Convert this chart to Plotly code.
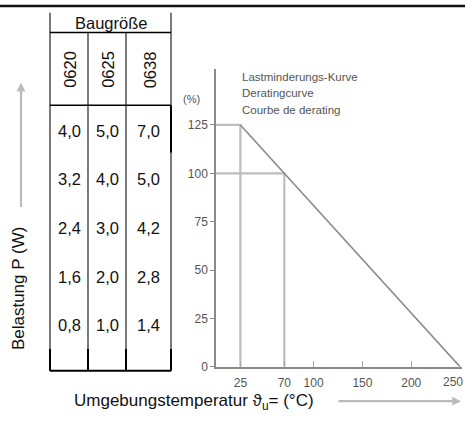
import plotly.graph_objects as go

# ---- data ----
baugroessen = ["0620", "0625", "0638"]
belastung_0620 = [4.0, 3.2, 2.4, 1.6, 0.8]
belastung_0625 = [5.0, 4.0, 3.0, 2.0, 1.0]
belastung_0638 = [7.0, 5.0, 4.2, 2.8, 1.4]

derating_temp = [25, 70, 250]      # °C
derating_load = [125, 100, 0]      # %
x_ticks = [25, 70, 100, 150, 200, 250]
y_ticks = [0, 25, 50, 75, 100, 125]
curve_labels = ["Lastminderungs-Kurve", "Deratingcurve", "Courbe de derating"]

W, H = 465, 421
FONT = "Liberation Sans, Arial, sans-serif"


def px(x):
    return x / W


def py(y):
    return 1 - y / H


def label(text, x, y, size=16.5, color="#111", angle=0, xanchor="center"):
    return dict(text=text, x=px(x), y=py(y), xref="paper", yref="paper",
                xanchor=xanchor, yanchor="middle", showarrow=False, textangle=angle,
                font=dict(family=FONT, size=size, color=color))


fig = go.Figure()

# guide lines from the knee points to both axes
for t, l in zip(derating_temp[:2], derating_load[:2]):
    fig.add_trace(go.Scatter(x=[0, t, t], y=[l, l, 0], mode="lines",
                             line=dict(color="#bdbdbd", width=2.2),
                             hoverinfo="skip", showlegend=False))
# derating curve
fig.add_trace(go.Scatter(x=derating_temp, y=derating_load, mode="lines",
                         line=dict(color="#8a8a8a", width=1.6),
                         showlegend=False))

shapes = []
annotations = []

# top rule
shapes.append(dict(type="line", xref="paper", yref="paper", x0=0, x1=1,
                   y0=py(6), y1=py(6), line=dict(color="#111", width=2.5)))

# table geometry (pixels)
col_x = [50, 88, 126, 171]
y_top, y_head, y_sub, y_bot = 13, 33, 107, 377
row_y = [133, 182.5, 232, 281.5, 331]
tc = "#333"
for i, x in enumerate(col_x):
    y0 = y_top if i in (0, 3) else y_head
    shapes.append(dict(type="line", xref="paper", yref="paper", x0=px(x), x1=px(x),
                       y0=py(y0), y1=py(y_bot), line=dict(color=tc, width=1.3)))
    shapes.append(dict(type="line", xref="paper", yref="paper", x0=px(x), x1=px(x),
                       y0=py(355), y1=py(y_bot), line=dict(color="#000", width=2)))
shapes.append(dict(type="line", xref="paper", yref="paper", x0=px(171), x1=px(171),
                   y0=py(107), y1=py(155), line=dict(color="#000", width=2)))
for y, w in ((y_head, 1.5), (y_sub, 1.5), (y_bot, 2.2)):
    shapes.append(dict(type="line", xref="paper", yref="paper", x0=px(col_x[0]), x1=px(col_x[-1]),
                       y0=py(y), y1=py(y), line=dict(color="#000", width=w)))

annotations.append(label("Baugröße", (col_x[0] + col_x[-1]) / 2, 23))
columns = [belastung_0620, belastung_0625, belastung_0638]
for j, name in enumerate(baugroessen):
    cx = (col_x[j] + col_x[j + 1]) / 2
    annotations.append(label(name, cx + 1, 71, angle=-90))
    for yy, v in zip(row_y, columns[j]):
        annotations.append(label(f"{v:.1f}".replace(".", ","), cx, yy))

# axis titles
annotations.append(label("Belastung P (W)", 18, 294, size=17, angle=-90))
annotations.append(label("Umgebungstemperatur ϑ<sub>u</sub>= (°C)", 194, 409, size=17))
# arrows
annotations.append(dict(text="", x=px(461), y=py(408), xref="paper", yref="paper",
                        ax=-124, ay=0, showarrow=True, arrowhead=2, arrowsize=0.8,
                        arrowwidth=2.2, arrowcolor="#bbbbbb"))
annotations.append(dict(text="", x=px(21), y=py(84), xref="paper", yref="paper",
                        ax=0, ay=126, showarrow=True, arrowhead=2, arrowsize=0.8,
                        arrowwidth=2.2, arrowcolor="#bbbbbb"))

# last x tick label (at the right edge of the picture)
annotations.append(dict(text=str(x_ticks[-1]), x=1, y=py(388), xref="paper", yref="paper",
                        xanchor="right", yanchor="middle", showarrow=False,
                        font=dict(family=FONT, size=12, color="#555")))

# chart labels
annotations.append(label("(%)", 181, 101, size=11, color="#555", xanchor="left"))
for k, lab in enumerate(curve_labels):
    annotations.append(label(lab, 240, 78 + 17 * k, size=11.5, color="#555", xanchor="left"))

fig.update_layout(
    width=W, height=H,
    margin=dict(l=0, r=0, t=0, b=0),
    paper_bgcolor="white", plot_bgcolor="white",
    shapes=shapes, annotations=annotations,
    xaxis=dict(domain=[px(216), px(462)], range=[0, 252], tickvals=x_ticks[:-1],
               showline=True, linecolor="#8a8a8a", linewidth=1.5, showgrid=False,
               zeroline=False, ticks="inside", ticklen=6, tickcolor="#aaa",
               ticklabelstandoff=4,
               tickfont=dict(family=FONT, size=12, color="#555")),
    yaxis=dict(domain=[py(373), py(70)], range=[0, 154], tickvals=y_ticks,
               showline=True, linecolor="#8a8a8a", linewidth=1.5, showgrid=False,
               zeroline=False, ticks="outside", ticklen=4, tickcolor="#888",
               tickfont=dict(family=FONT, size=12, color="#555")),
)

fig.write_html(
    "out.html", config={"displayModeBar": False},
    post_script=("document.body.style.margin='0';"
                 "document.body.style.overflow='hidden';"
                 "document.documentElement.style.overflow='hidden';"))
